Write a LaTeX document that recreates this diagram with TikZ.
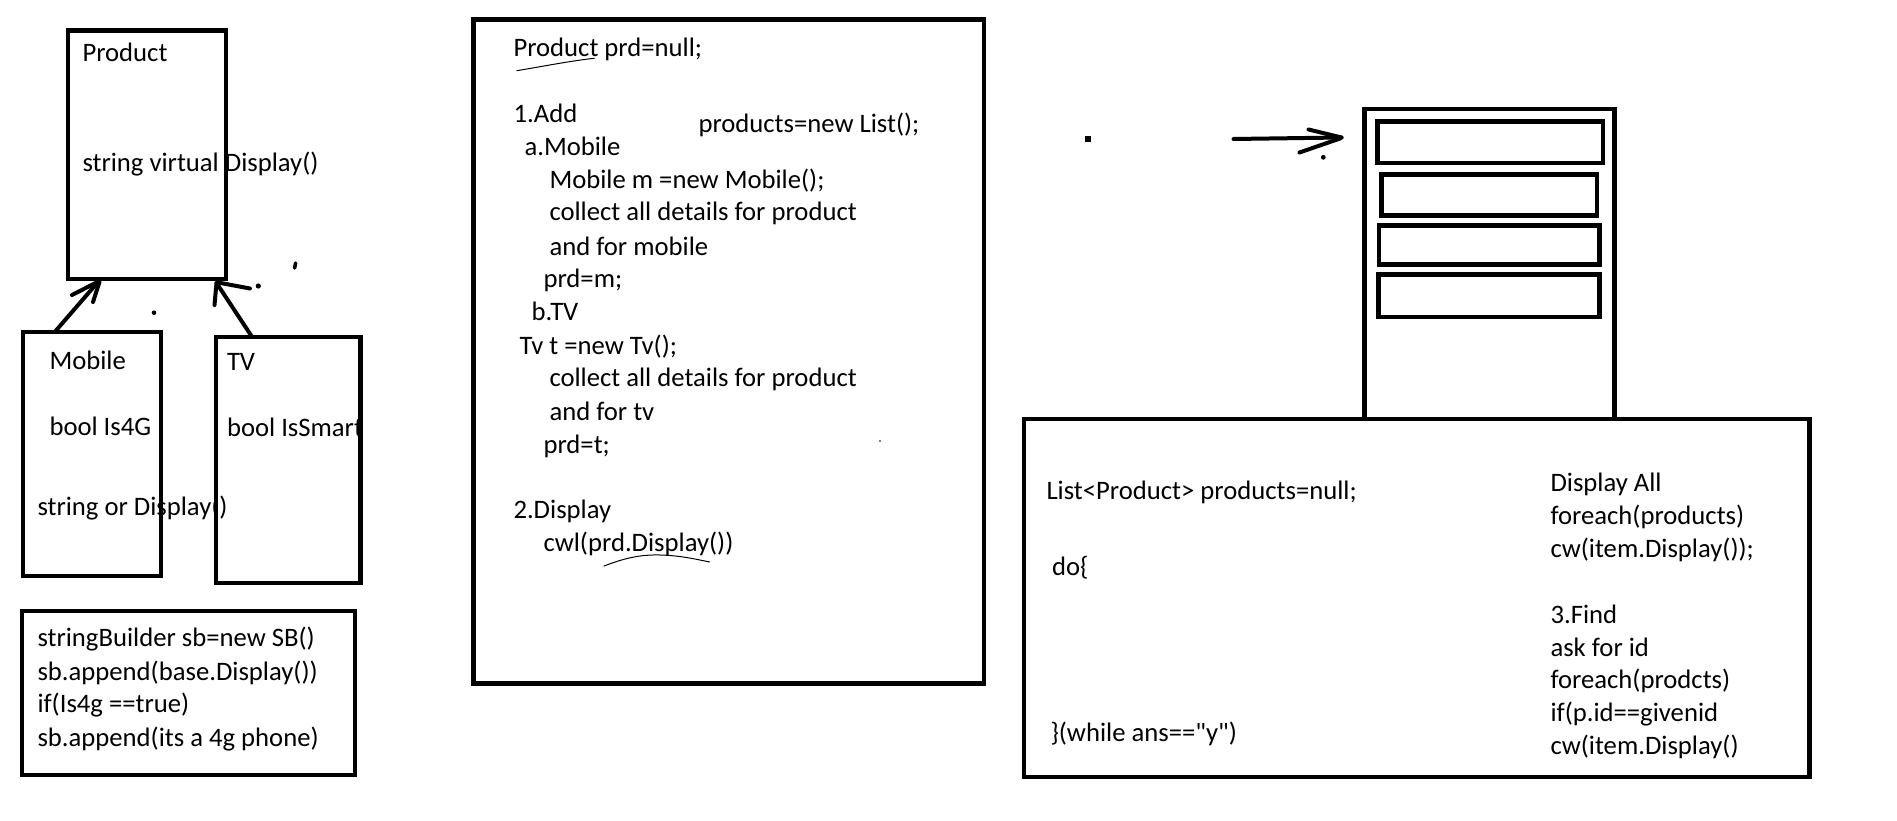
\documentclass[tikz,border=0pt]{standalone}
\usepackage{fontspec}
\setmainfont{Carlito}
\newfontfamily\calfont{Carlito}
\begin{document}
\begin{tikzpicture}[x=1pt,y=-1pt,
  txt/.style={anchor=base west, inner sep=0pt, outer sep=0pt, font=\calfont\fontsize{26.67}{33}\selectfont},
  box/.style={draw, line width=4.4pt, inner sep=0pt, outer sep=0pt, anchor=north west},
  pen/.style={line width=4pt, line cap=round, line join=round},
  thin/.style={line width=1pt, line cap=round},
  dot/.style={fill=black}]
\path[use as bounding box, fill=white] (0,0) rectangle (1897,821);

% ---------- texts (drawn first: borders cross some of them) ----------
\node[txt] (tProd) at (82.5,61.7) {Product};
\node[txt] (tProdM) at (82.5,171.7) {string virtual Display()};
\node[txt] (tMob) at (49.5,369.3) {Mobile};
\node[txt] (tMobA) at (49.5,435) {bool Is4G};
\node[txt] (tMobM) at (37.5,515) {string or Display()};
\node[txt] (tTV) at (227,370) {TV};
\node[txt] (tTVA) at (227,436) {bool IsSmart};
\node[txt] (sb1) at (37.5,646.7) {stringBuilder sb=new SB()};
\node[txt] (sb2) at (37.5,680) {sb.append(base.Display())};
\node[txt] (sb3) at (37.5,712.7) {if(Is4g ==true)};
\node[txt] (sb4) at (37.5,746) {sb.append(its a 4g phone)};

\node[txt] (m1) at (513.5,56.7) {Product prd=null;};
\node[txt] (m2) at (513.5,122.7) {1.Add};
\node[txt] (m3) at (698.5,132.7) {products=new List();};
\node[txt] (m4) at (524.5,156) {a.Mobile};
\node[txt] (m5) at (549.5,188.3) {Mobile m =new Mobile();};
\node[txt] (m6) at (549.5,221) {collect all details for product};
\node[txt] (m7) at (549.5,255) {and for mobile};
\node[txt] (m8) at (543.5,287.3) {prd=m;};
\node[txt] (m9) at (531.5,320) {b.TV};
\node[txt] (m10) at (519.5,354) {Tv t =new Tv();};
\node[txt] (m11) at (549.5,386.7) {collect all details for product};
\node[txt] (m12) at (549.5,420) {and for tv};
\node[txt] (m13) at (543.5,453.3) {prd=t;};
\node[txt] (m14) at (513.5,518.3) {2.Display};
\node[txt] (m15) at (543.5,551.7) {cwl(prd.Display())};

\node[txt] (b1) at (1046.5,499.5) {List<Product> products=null;};
\node[txt] (b2) at (1052,575.7) {do\{};
\node[txt] (b3) at (1050.5,741) {\}(while ans=="y")};
\node[txt] (r1) at (1550.5,491.3) {Display All};
\node[txt] (r2) at (1550.5,524.6) {foreach(products)};
\node[txt] (r3) at (1550.5,557.2) {cw(item.Display());};
\node[txt] (r4) at (1550.5,623) {3.Find};
\node[txt] (r5) at (1550.5,656) {ask for id};
\node[txt] (r6) at (1550.5,688.7) {foreach(prodcts)};
\node[txt] (r7) at (1550.5,721.4) {if(p.id==givenid};
\node[txt] (r8) at (1550.5,754.7) {cw(item.Display()};

% ---------- boxes ----------
\node[box, minimum width=158pt, minimum height=248pt] (product) at (68,30.7) {};
\node[box, minimum width=138pt, minimum height=244.5pt] (mobile) at (23,331.7) {};
\node[box, minimum width=144.5pt, minimum height=246.4pt] (tv) at (215.8,336.8) {};
\node[box, minimum width=333.3pt, minimum height=164pt] (sb) at (21.7,611) {};
\node[box, minimum width=510.6pt, minimum height=663.6pt] (menu) at (473.4,19.7) {};
\node[box, minimum width=250pt, minimum height=309.7pt] (stack) at (1364.3,109.3) {};
\node[box, minimum width=785.8pt, minimum height=358pt] (prog) at (1023.7,419) {};
\node[box, minimum width=225.4pt, minimum height=41.3pt] (slot1) at (1377.3,121.5) {};
\node[box, minimum width=215.7pt, minimum height=41pt] (slot2) at (1381.3,174.5) {};
\node[box, minimum width=220.5pt, minimum height=39pt] (slot3) at (1379,225.5) {};
\node[box, minimum width=221.2pt, minimum height=42.3pt] (slot4) at (1378.3,274.5) {};

% ---------- hand-drawn arrows ----------
\coordinate (mobTail) at (55,331.7);
\coordinate (mobTip) at (98,282);
\draw[pen] (mobTail) -- (mobTip);
\draw[pen] (72,295) -- (96.5,282.5);
\draw[pen] (93,302) -- (99.5,282);

\coordinate (tvTail) at (252,336.8);
\coordinate (tvTip) at (216.5,283);
\draw[pen] (tvTail) -- (tvTip);
\draw[pen] (214.5,305) -- (tvTip);
\draw[pen] (250,288.5) -- (218,282.5);

\coordinate (lstTail) at (1233.5,139);
\coordinate (lstTip) at (1341.5,137.5);
\draw[pen] (lstTail) -- (lstTip);
\draw[pen] (1308.5,129.5) -- (lstTip);
\draw[pen] (1299.5,152.5) -- (1340,138.5);

% ---------- stray marks ----------
\fill[dot] (258.3,286) circle (2.6pt);
\draw[pen, line width=3.6pt] (295.6,263) -- (294.6,268);
\fill[dot] (154,312.7) circle (2.3pt);
\fill[dot] (1085.3,136) rectangle (1091.3,142);
\fill[dot] (1323.3,157.3) circle (2.4pt);
\fill[dot] (880,441) circle (0.8pt);

% ---------- pen underlines ----------
\draw[thin] (516.8,70.7) .. controls (545,66) and (570,61) .. (594.3,58.3);
\draw[thin] (604,566) .. controls (625,558) and (640,554.5) .. (660,555)
  .. controls (680,555.5) and (695,559) .. (709.7,562);
\end{tikzpicture}
\end{document}
